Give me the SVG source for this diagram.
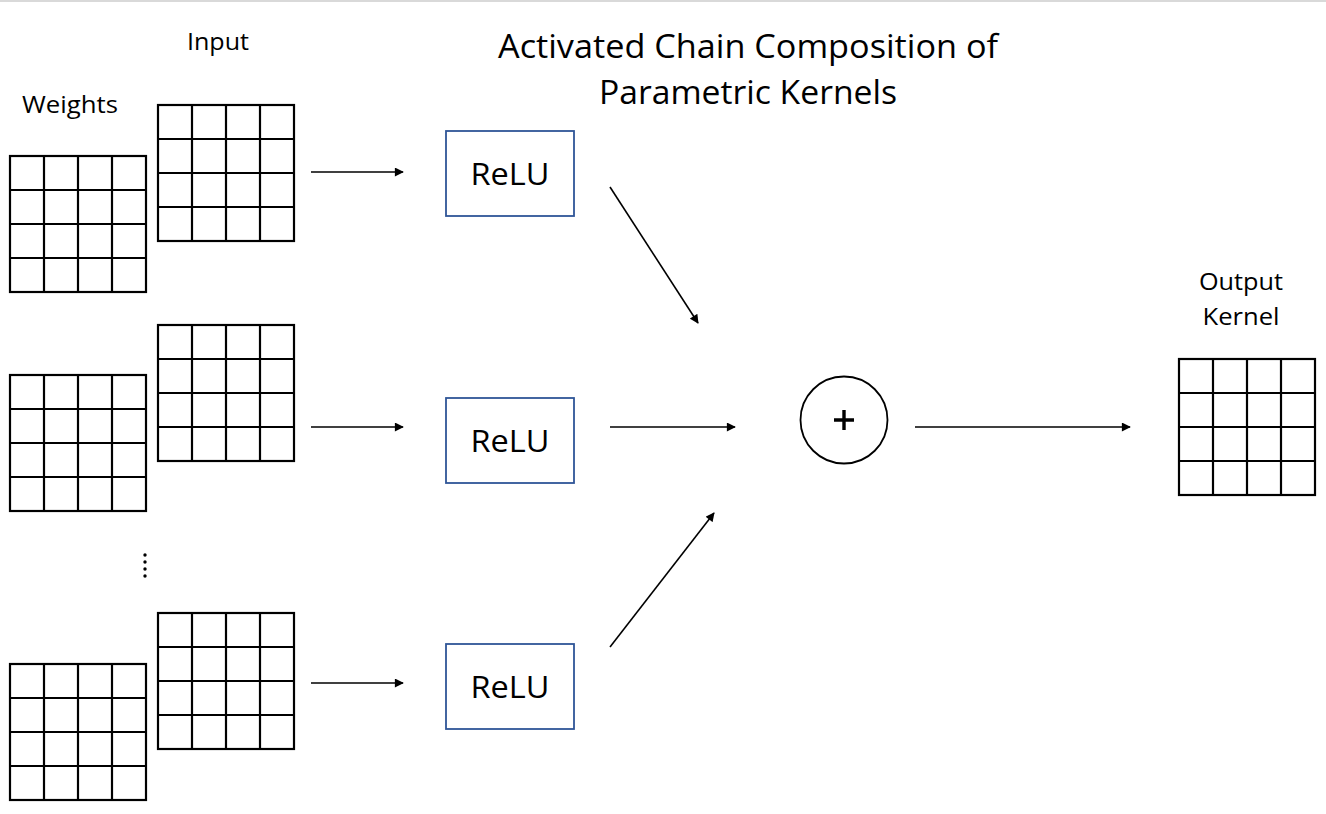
<svg xmlns="http://www.w3.org/2000/svg" xmlns:xlink="http://www.w3.org/1999/xlink" width="1326" height="814" viewBox="0 0 1326 814">
<style>
.grid{fill:#fff;stroke:#000;stroke-width:2.2}
.gl{stroke:#000;stroke-width:2.2}
.relu{fill:#fff;stroke:#2F5597;stroke-width:1.8}
.lbl{font-family:"Open Sans","Liberation Sans",Arial,sans-serif;fill:#000}
.conn{stroke:#000;stroke-width:1.6;fill:none;marker-end:url(#ah)}
</style>
<defs>
<marker id="ah" viewBox="0 0 10 10" refX="9" refY="5" markerWidth="10" markerHeight="9" markerUnits="userSpaceOnUse" orient="auto">
<path d="M0,0 L10,5 L0,10 z" fill="#000"/>
</marker>
<g id="grid">
<rect class="grid" x="0" y="0" width="136" height="136"/>
<path class="gl" d="M34,0V136M68,0V136M102,0V136M0,34H136M0,68H136M0,102H136"/>
</g>
</defs>
<rect x="0" y="0" width="1326" height="814" fill="#fff"/>
<rect x="0" y="0" width="1326" height="2" fill="#d9d9d9"/>
<g id="title">
<text class="lbl" x="748" y="58" font-size="33" text-anchor="middle" textLength="500" lengthAdjust="spacingAndGlyphs">Activated Chain Composition of</text>
<text class="lbl" x="748" y="104" font-size="33" text-anchor="middle" textLength="298" lengthAdjust="spacingAndGlyphs">Parametric Kernels</text>
</g>
<g id="labels">
<text class="lbl" x="218" y="50" font-size="23" text-anchor="middle" textLength="62" lengthAdjust="spacingAndGlyphs">Input</text>
<text class="lbl" x="70" y="113" font-size="23" text-anchor="middle" textLength="96" lengthAdjust="spacingAndGlyphs">Weights</text>
</g>
<g id="weights1"><use xlink:href="#grid" href="#grid" transform="translate(10,156)"/></g>
<g id="input1"><use xlink:href="#grid" href="#grid" transform="translate(158,105)"/></g>
<g id="weights2"><use xlink:href="#grid" href="#grid" transform="translate(10,375)"/></g>
<g id="input2"><use xlink:href="#grid" href="#grid" transform="translate(158,325)"/></g>
<g id="weights3"><use xlink:href="#grid" href="#grid" transform="translate(10,664)"/></g>
<g id="input3"><use xlink:href="#grid" href="#grid" transform="translate(158,613)"/></g>
<g id="dots" fill="#000">
<circle cx="145" cy="555" r="1.7"/><circle cx="145" cy="562" r="1.7"/><circle cx="145" cy="569" r="1.7"/><circle cx="145" cy="576" r="1.7"/>
</g>
<g id="relu1"><rect class="relu" x="446" y="131" width="128" height="85"/><text class="lbl" x="510" y="185" font-size="31" text-anchor="middle" textLength="79" lengthAdjust="spacingAndGlyphs">ReLU</text></g>
<g id="relu2"><rect class="relu" x="446" y="398" width="128" height="85"/><text class="lbl" x="510" y="452" font-size="31" text-anchor="middle" textLength="79" lengthAdjust="spacingAndGlyphs">ReLU</text></g>
<g id="relu3"><rect class="relu" x="446" y="644" width="128" height="85"/><text class="lbl" x="510" y="698" font-size="31" text-anchor="middle" textLength="79" lengthAdjust="spacingAndGlyphs">ReLU</text></g>
<g id="sum">
<circle cx="844" cy="420" r="43.5" fill="#fff" stroke="#000" stroke-width="1.8"/>
<path d="M834,420H854M844,410V430" stroke="#000" stroke-width="3.4"/>
</g>
<g id="output">
<text class="lbl" x="1241" y="290" font-size="23" text-anchor="middle" textLength="84" lengthAdjust="spacingAndGlyphs">Output</text>
<text class="lbl" x="1241" y="325" font-size="23" text-anchor="middle" textLength="77" lengthAdjust="spacingAndGlyphs">Kernel</text>
<use xlink:href="#grid" href="#grid" transform="translate(1179,359)"/>
</g>
<g id="connectors">
<line class="conn" x1="311" y1="172" x2="403" y2="172"/>
<line class="conn" x1="311" y1="427" x2="403" y2="427"/>
<line class="conn" x1="311" y1="683" x2="403" y2="683"/>
<line class="conn" x1="610" y1="187" x2="698" y2="323"/>
<line class="conn" x1="610" y1="427" x2="735" y2="427"/>
<line class="conn" x1="610" y1="647" x2="714" y2="513"/>
<line class="conn" x1="915" y1="427" x2="1130" y2="427"/>
</g>
</svg>
